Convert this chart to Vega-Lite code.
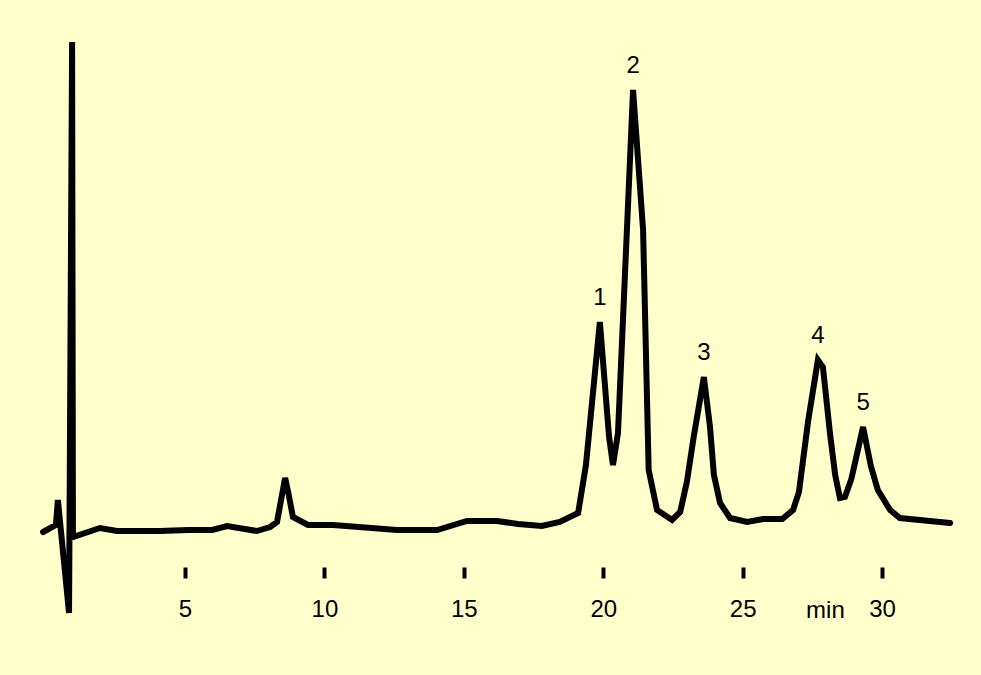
{
  "$schema": "https://vega.github.io/schema/vega-lite/v6.json",
  "width": 981,
  "height": 675,
  "autosize": {"type": "fit", "contains": "padding"},
  "padding": 0,
  "background": "#FFFFCC",
  "config": {"view": {"stroke": null}, "font": "Liberation Sans"},
  "datasets": {
    "trace": [
      {"t": -0.09, "s": -1},
      {"t": 0.37, "s": 6},
      {"t": 0.44, "s": 31},
      {"t": 0.84, "s": -82},
      {"t": 0.95, "s": 489},
      {"t": 0.98, "s": -6},
      {"t": 1.95, "s": 3},
      {"t": 2.56, "s": 0},
      {"t": 4.10, "s": 0},
      {"t": 5.11, "s": 1},
      {"t": 5.97, "s": 1},
      {"t": 6.51, "s": 5},
      {"t": 7.58, "s": 0},
      {"t": 8.05, "s": 4},
      {"t": 8.30, "s": 9},
      {"t": 8.59, "s": 53},
      {"t": 8.70, "s": 39},
      {"t": 8.87, "s": 14},
      {"t": 9.41, "s": 6},
      {"t": 10.31, "s": 6},
      {"t": 12.61, "s": 1},
      {"t": 14.04, "s": 1},
      {"t": 15.11, "s": 10},
      {"t": 16.19, "s": 10},
      {"t": 16.94, "s": 7},
      {"t": 17.80, "s": 5},
      {"t": 18.44, "s": 9},
      {"t": 19.10, "s": 18},
      {"t": 19.38, "s": 66},
      {"t": 19.88, "s": 209, "label": "1"},
      {"t": 20.21, "s": 94},
      {"t": 20.35, "s": 66},
      {"t": 20.53, "s": 98},
      {"t": 21.07, "s": 441, "label": "2"},
      {"t": 21.43, "s": 301},
      {"t": 21.63, "s": 61},
      {"t": 21.93, "s": 21},
      {"t": 22.47, "s": 11},
      {"t": 22.76, "s": 19},
      {"t": 23.00, "s": 49},
      {"t": 23.25, "s": 95},
      {"t": 23.61, "s": 154, "label": "3"},
      {"t": 23.83, "s": 104},
      {"t": 23.97, "s": 56},
      {"t": 24.19, "s": 28},
      {"t": 24.55, "s": 13},
      {"t": 25.16, "s": 9},
      {"t": 25.74, "s": 12},
      {"t": 26.42, "s": 12},
      {"t": 26.81, "s": 21},
      {"t": 27.02, "s": 39},
      {"t": 27.35, "s": 110},
      {"t": 27.70, "s": 171, "label": "4"},
      {"t": 27.88, "s": 164},
      {"t": 28.14, "s": 96},
      {"t": 28.32, "s": 56},
      {"t": 28.49, "s": 33},
      {"t": 28.67, "s": 34},
      {"t": 28.90, "s": 52},
      {"t": 29.32, "s": 104, "label": "5"},
      {"t": 29.60, "s": 65},
      {"t": 29.85, "s": 41},
      {"t": 30.29, "s": 21},
      {"t": 30.64, "s": 13},
      {"t": 32.44, "s": 8}
    ],
    "unit": [{"t": 27.97, "s": -80, "text": "min"}]
  },
  "layer": [
    {
      "data": {"name": "trace"},
      "mark": {"type": "line", "color": "black", "strokeWidth": 6, "strokeCap": "round"},
      "encoding": {
        "x": {
          "field": "t", "type": "quantitative",
          "scale": {"domain": [-1.636, 33.55], "nice": false, "zero": false},
          "axis": {
            "orient": "bottom", "offset": -108, "values": [5, 10, 15, 20, 25, 30],
            "domain": false, "grid": false, "title": null,
            "tickSize": 11, "tickWidth": 4, "tickColor": "black",
            "labelFontSize": 24, "labelColor": "black", "labelPadding": 19,
            "labelFont": "Liberation Sans"
          }
        },
        "y": {
          "field": "s", "type": "quantitative",
          "scale": {"domain": [-144, 531], "nice": false, "zero": false},
          "axis": null
        }
      }
    },
    {
      "data": {"name": "trace"},
      "transform": [{"filter": "isValid(datum.label)"}],
      "mark": {"type": "text", "fontSize": 24, "color": "black", "baseline": "middle", "dy": -24},
      "encoding": {
        "x": {"field": "t", "type": "quantitative"},
        "y": {"field": "s", "type": "quantitative"},
        "text": {"field": "label"}
      }
    },
    {
      "data": {"name": "unit"},
      "mark": {"type": "text", "fontSize": 24, "color": "black", "baseline": "middle"},
      "encoding": {
        "x": {"field": "t", "type": "quantitative"},
        "y": {"field": "s", "type": "quantitative"},
        "text": {"field": "text"}
      }
    }
  ]
}
